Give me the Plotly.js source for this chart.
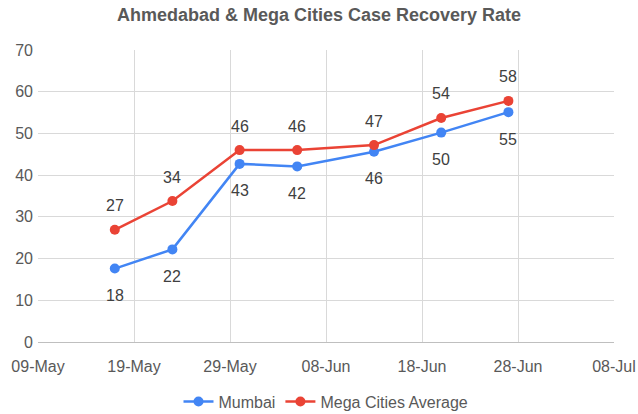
<!DOCTYPE html>
<html><head><meta charset="utf-8">
<script src="https://cdn.plot.ly/plotly-3.0.1.min.js"></script>
<style>html,body{margin:0;padding:0;background:#fff}#chart{width:638px;height:414px}</style>
</head><body><div id="chart"></div>
<script>
const dates = ['2020-05-17','2020-05-23','2020-05-30','2020-06-05','2020-06-13','2020-06-20','2020-06-27'];
const mumbai = [17.6, 22.2, 42.7, 42.1, 45.6, 50.2, 55.1];
const megaAvg = [26.9, 33.8, 46.0, 46.0, 47.2, 53.7, 57.8];
const seriesNames = ['Mumbai', 'Mega Cities Average'];
const colors = ['#4285F4', '#EA4335'];
const FONT = 'Arial, "Liberation Sans", sans-serif';

const traces = [mumbai, megaAvg].map((v, i) => ({
  x: dates, y: v, name: seriesNames[i], type: 'scatter', mode: 'lines+markers',
  line: {color: colors[i], width: 2.5}, marker: {color: colors[i], size: 10}
}));

const annotations = [];
dates.forEach((d, i) => {
  annotations.push({x: d, y: megaAvg[i], text: String(Math.round(megaAvg[i])), showarrow: false, yshift: 24,
    font: {family: FONT, size: 16, color: '#404040'}});
  annotations.push({x: d, y: mumbai[i], text: String(Math.round(mumbai[i])), showarrow: false, yshift: -27,
    font: {family: FONT, size: 16, color: '#404040'}});
});

const layout = {
  width: 638, height: 414,
  margin: {l: 38, r: 24, t: 50, b: 72, autoexpand: false},
  paper_bgcolor: '#fff', plot_bgcolor: '#fff',
  font: {family: FONT, size: 16, color: '#595959'},
  title: {text: '<b>Ahmedabad & Mega Cities Case Recovery Rate</b>', x: 0.5, xanchor: 'center', y: 0.965, yanchor: 'middle',
    font: {family: FONT, size: 18, color: '#595959'}},
  xaxis: {type: 'date', range: ['2020-05-09', '2020-07-08'], tick0: '2020-05-09', dtick: 864000000,
    tickformat: '%d-%b', showgrid: true, gridcolor: '#d9d9d9', gridwidth: 1,
    showline: true, linecolor: '#bfbfbf', linewidth: 1, zeroline: false, ticks: '',
    ticklabelstandoff: 10,
    tickfont: {family: FONT, size: 16, color: '#595959'}},
  yaxis: {range: [0, 70], dtick: 10, showgrid: true, gridcolor: '#d9d9d9', gridwidth: 1,
    zeroline: false, showline: false, ticks: '', ticklabelstandoff: 4,
    tickfont: {family: FONT, size: 16, color: '#595959'}},
  legend: {orientation: 'h', x: 0.5, xanchor: 'center', yref: 'container', y: 0.03, yanchor: 'middle',
    font: {family: FONT, size: 16, color: '#595959'}},
  annotations: annotations,
  showlegend: true
};
Plotly.newPlot('chart', traces, layout, {staticPlot: true, displayModeBar: false});
</script></body></html>
